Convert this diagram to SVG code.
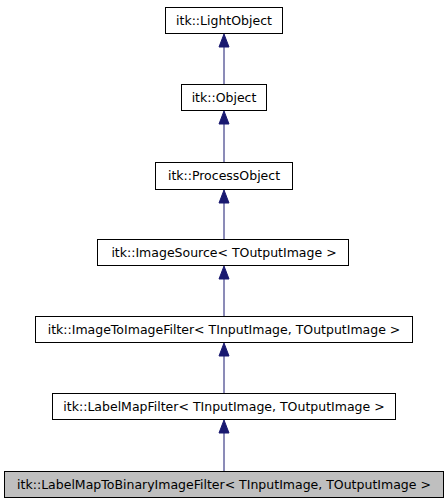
<svg xmlns="http://www.w3.org/2000/svg" width="448" height="504" viewBox="0 0 448 504">
<style>
.box{fill:#ffffff;stroke:#000000;stroke-width:1}
.cur{fill:#bfbfbf;stroke:#000000;stroke-width:1}
text{font-family:"DejaVu Sans",sans-serif;font-size:12.5px;text-anchor:middle;fill:#000000}
.edge{stroke:#191970;stroke-width:1;fill:none}
.head{fill:#191970;stroke:#191970;stroke-width:1}
</style>
<rect width="448" height="504" fill="#ffffff"/>
<g id="connectors">
<path class="edge" d="M224,84V46"/><polygon class="head" points="224,34 219,47 229,47"/>
<path class="edge" d="M224,162V123"/><polygon class="head" points="224,111 219,124 229,124"/>
<path class="edge" d="M224,239V202"/><polygon class="head" points="224,190 219,203 229,203"/>
<path class="edge" d="M224,316V278"/><polygon class="head" points="224,266 219,279 229,279"/>
<path class="edge" d="M224,393V355"/><polygon class="head" points="224,343 219,356 229,356"/>
<path class="edge" d="M224,471V432"/><polygon class="head" points="224,420 219,433 229,433"/>
</g>
<g id="LightObject"><rect class="box" x="165.5" y="7.5" width="117" height="26"/><text x="224" y="25">itk::LightObject</text></g>
<g id="Object"><rect class="box" x="181.5" y="84.5" width="85" height="26"/><text x="224" y="102">itk::Object</text></g>
<g id="ProcessObject"><rect class="box" x="155.5" y="162.5" width="137" height="27"/><text x="224" y="180">itk::ProcessObject</text></g>
<g id="ImageSource"><rect class="box" x="97.5" y="239.5" width="251" height="26"/><text x="224" y="257">itk::ImageSource&lt; TOutputImage &gt;</text></g>
<g id="ImageToImageFilter"><rect class="box" x="35.5" y="316.5" width="377" height="26"/><text x="224" y="334">itk::ImageToImageFilter&lt; TInputImage, TOutputImage &gt;</text></g>
<g id="LabelMapFilter"><rect class="box" x="52.5" y="393.5" width="343" height="26"/><text x="224" y="411">itk::LabelMapFilter&lt; TInputImage, TOutputImage &gt;</text></g>
<g id="LabelMapToBinaryImageFilter"><rect class="cur" x="4.5" y="471.5" width="439" height="26"/><text x="224" y="489">itk::LabelMapToBinaryImageFilter&lt; TInputImage, TOutputImage &gt;</text></g>
</svg>
